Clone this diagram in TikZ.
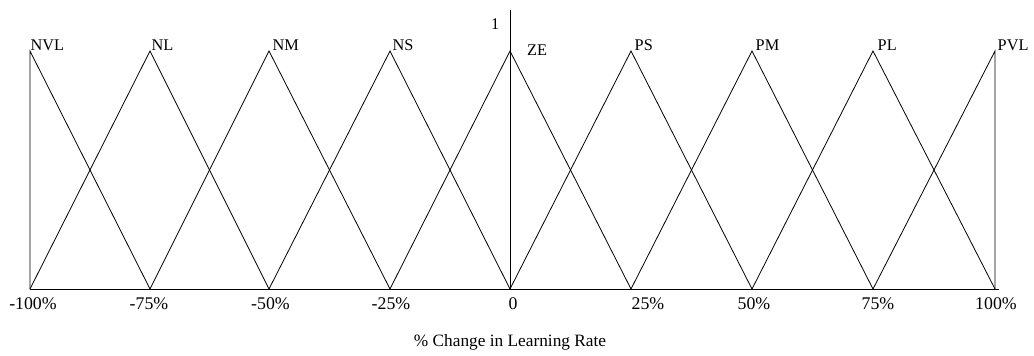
\documentclass[tikz,border=0pt]{standalone}
\usepackage{fontspec}
\setmainfont{Liberation Serif}
\begin{document}
\begin{tikzpicture}[x=1pt,y=-1pt,
  mf/.style={line width=0.8pt, black},
  setlab/.style={inner sep=0pt, anchor=base west, font=\fontsize{16.3}{16.3}\selectfont},
  ticklab/.style={inner sep=0pt, anchor=base, font=\fontsize{17.8}{17.8}\selectfont},
  titlelab/.style={inner sep=0pt, anchor=base, font=\fontsize{17.3}{17.3}\selectfont}]
\useasboundingbox (0,0) rectangle (1034,356);
% peaks and feet
\foreach \i/\x in {0/30,1/150,2/269,3/390,4/510,5/631,6/752,7/873,8/995}{
  \coordinate (p\i) at (\x,51);
  \coordinate (b\i) at (\x,289);
}
\coordinate (axend) at (999,289);
\coordinate (ytop) at (510,10);
% axes
\draw[mf] (b0) -- (axend);
\draw[mf] (b4) -- (ytop);
% membership functions
\draw[mf] (b0) -- (p0) -- (b1);
\draw[mf] (b0) -- (p1) -- (b2);
\draw[mf] (b1) -- (p2) -- (b3);
\draw[mf] (b2) -- (p3) -- (b4);
\draw[mf] (b3) -- (p4) -- (b5);
\draw[mf] (b4) -- (p5) -- (b6);
\draw[mf] (b5) -- (p6) -- (b7);
\draw[mf] (b6) -- (p7) -- (b8);
\draw[mf] (b7) -- (p8) -- (b8);
% set labels
\node[setlab] (lNVL) at (30.5,50) {NVL};
\node[setlab] (lNL) at (151.5,50) {NL};
\node[setlab] (lNM) at (272.5,50) {NM};
\node[setlab] (lNS) at (392.5,50) {NS};
\node[setlab] (lZE) at (527,55) {ZE};
\node[setlab] (lPS) at (634.5,50) {PS};
\node[setlab] (lPM) at (755.5,50) {PM};
\node[setlab] (lPL) at (877.5,50) {PL};
\node[setlab] (lPVL) at (997.5,50) {PVL};
\node[setlab, anchor=base east] (lone) at (499.5,30) {1};
% tick labels
\node[ticklab] (t0) at (33,309) {-100\%};
\node[ticklab] (t1) at (149,309) {-75\%};
\node[ticklab] (t2) at (270.5,309) {-50\%};
\node[ticklab] (t3) at (391,309) {-25\%};
\node[ticklab] (t4) at (513,309) {0};
\node[ticklab] (t5) at (648,309) {25\%};
\node[ticklab] (t6) at (754,309) {50\%};
\node[ticklab] (t7) at (878,309) {75\%};
\node[ticklab] (t8) at (996,309) {100\%};
% axis title
\node[titlelab] (title) at (510,346.5) {\% Change in Learning Rate};
\end{tikzpicture}
\end{document}
